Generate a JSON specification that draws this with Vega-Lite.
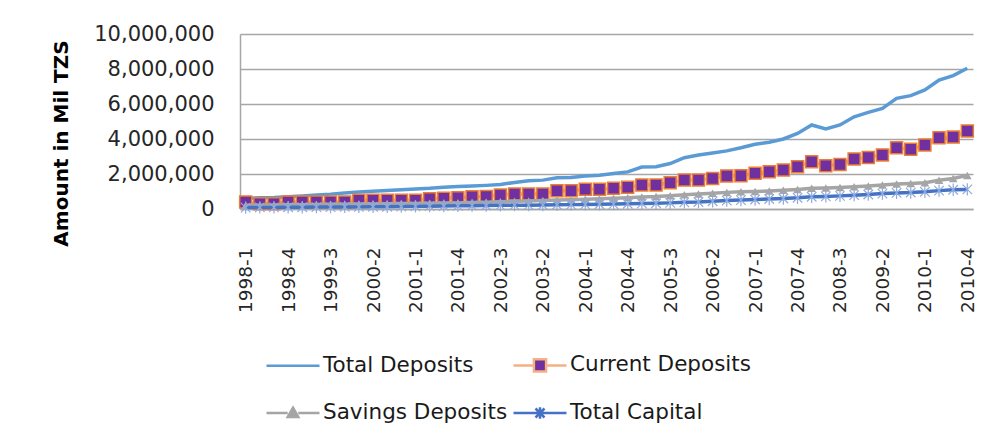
{
  "$schema": "https://vega.github.io/schema/vega-lite/v6.json",
  "width": 733,
  "height": 175,
  "autosize": {"type": "none"},
  "padding": {"left": 240, "top": 34, "right": 22, "bottom": 238},
  "background": "white",
  "config": {
    "font": "DejaVu Sans",
    "view": {"stroke": null},
    "axisY": {
      "values": [0, 2000000, 4000000, 6000000, 8000000, 10000000],
      "labelExpr": "format(datum.value, ',')",
      "labelFontSize": 21,
      "labelColor": "#262626",
      "labelPadding": 26,
      "ticks": false,
      "domain": true,
      "domainColor": "#a6a6a6",
      "domainWidth": 1.5,
      "grid": true,
      "gridColor": "#a6a6a6",
      "gridWidth": 1.5,
      "titleFontSize": 20,
      "titleFontWeight": "bold",
      "titleColor": "#000000",
      "titleX": -173,
      "titleY": 109,
      "titleBaseline": "alphabetic",
      "titleAngle": -90,
      "titleAlign": "center"
    },
    "legend": {
      "orient": "none",
      "legendX": 25,
      "legendY": 303,
      "direction": "horizontal",
      "columns": 2,
      "symbolSize": 2809,
      "symbolStrokeWidth": 2.5,
      "symbolOpacity": 1,
      "labelFontSize": 21.5,
      "labelColor": "#1a1a1a",
      "labelFont": "DejaVu Sans",
      "labelOffset": 2,
      "labelLimit": 400,
      "columnPadding": 0,
      "rowPadding": 8
    }
  },
  "data": {"values": [
    {"q": "1998-1", "Total Deposits": 620000, "Current Deposits": 400000, "Savings Deposits": 220000, "Total Capital": 80000},
    {"q": "1998-2", "Total Deposits": 640000, "Current Deposits": 300000, "Savings Deposits": 220000, "Total Capital": 90000},
    {"q": "1998-3", "Total Deposits": 660000, "Current Deposits": 300000, "Savings Deposits": 230000, "Total Capital": 90000},
    {"q": "1998-4", "Total Deposits": 700000, "Current Deposits": 400000, "Savings Deposits": 240000, "Total Capital": 100000},
    {"q": "1999-1", "Total Deposits": 750000, "Current Deposits": 400000, "Savings Deposits": 250000, "Total Capital": 100000},
    {"q": "1999-2", "Total Deposits": 800000, "Current Deposits": 400000, "Savings Deposits": 260000, "Total Capital": 110000},
    {"q": "1999-3", "Total Deposits": 850000, "Current Deposits": 400000, "Savings Deposits": 270000, "Total Capital": 110000},
    {"q": "1999-4", "Total Deposits": 920000, "Current Deposits": 400000, "Savings Deposits": 270000, "Total Capital": 120000},
    {"q": "2000-1", "Total Deposits": 970000, "Current Deposits": 500000, "Savings Deposits": 280000, "Total Capital": 120000},
    {"q": "2000-2", "Total Deposits": 1020000, "Current Deposits": 500000, "Savings Deposits": 290000, "Total Capital": 130000},
    {"q": "2000-3", "Total Deposits": 1060000, "Current Deposits": 500000, "Savings Deposits": 300000, "Total Capital": 130000},
    {"q": "2000-4", "Total Deposits": 1100000, "Current Deposits": 500000, "Savings Deposits": 310000, "Total Capital": 140000},
    {"q": "2001-1", "Total Deposits": 1140000, "Current Deposits": 500000, "Savings Deposits": 320000, "Total Capital": 150000},
    {"q": "2001-2", "Total Deposits": 1180000, "Current Deposits": 590000, "Savings Deposits": 330000, "Total Capital": 160000},
    {"q": "2001-3", "Total Deposits": 1240000, "Current Deposits": 620000, "Savings Deposits": 340000, "Total Capital": 170000},
    {"q": "2001-4", "Total Deposits": 1280000, "Current Deposits": 650000, "Savings Deposits": 350000, "Total Capital": 180000},
    {"q": "2002-1", "Total Deposits": 1310000, "Current Deposits": 700000, "Savings Deposits": 370000, "Total Capital": 190000},
    {"q": "2002-2", "Total Deposits": 1350000, "Current Deposits": 720000, "Savings Deposits": 390000, "Total Capital": 200000},
    {"q": "2002-3", "Total Deposits": 1400000, "Current Deposits": 800000, "Savings Deposits": 420000, "Total Capital": 210000},
    {"q": "2002-4", "Total Deposits": 1520000, "Current Deposits": 860000, "Savings Deposits": 440000, "Total Capital": 220000},
    {"q": "2003-1", "Total Deposits": 1620000, "Current Deposits": 860000, "Savings Deposits": 460000, "Total Capital": 220000},
    {"q": "2003-2", "Total Deposits": 1650000, "Current Deposits": 860000, "Savings Deposits": 480000, "Total Capital": 230000},
    {"q": "2003-3", "Total Deposits": 1780000, "Current Deposits": 1050000, "Savings Deposits": 510000, "Total Capital": 240000},
    {"q": "2003-4", "Total Deposits": 1800000, "Current Deposits": 1050000, "Savings Deposits": 530000, "Total Capital": 250000},
    {"q": "2004-1", "Total Deposits": 1880000, "Current Deposits": 1130000, "Savings Deposits": 560000, "Total Capital": 260000},
    {"q": "2004-2", "Total Deposits": 1930000, "Current Deposits": 1130000, "Savings Deposits": 580000, "Total Capital": 270000},
    {"q": "2004-3", "Total Deposits": 2030000, "Current Deposits": 1180000, "Savings Deposits": 610000, "Total Capital": 280000},
    {"q": "2004-4", "Total Deposits": 2120000, "Current Deposits": 1240000, "Savings Deposits": 640000, "Total Capital": 300000},
    {"q": "2005-1", "Total Deposits": 2400000, "Current Deposits": 1370000, "Savings Deposits": 680000, "Total Capital": 320000},
    {"q": "2005-2", "Total Deposits": 2420000, "Current Deposits": 1370000, "Savings Deposits": 710000, "Total Capital": 330000},
    {"q": "2005-3", "Total Deposits": 2600000, "Current Deposits": 1500000, "Savings Deposits": 760000, "Total Capital": 350000},
    {"q": "2005-4", "Total Deposits": 2930000, "Current Deposits": 1660000, "Savings Deposits": 820000, "Total Capital": 380000},
    {"q": "2006-1", "Total Deposits": 3080000, "Current Deposits": 1660000, "Savings Deposits": 860000, "Total Capital": 400000},
    {"q": "2006-2", "Total Deposits": 3200000, "Current Deposits": 1750000, "Savings Deposits": 900000, "Total Capital": 440000},
    {"q": "2006-3", "Total Deposits": 3320000, "Current Deposits": 1890000, "Savings Deposits": 950000, "Total Capital": 480000},
    {"q": "2006-4", "Total Deposits": 3500000, "Current Deposits": 1900000, "Savings Deposits": 980000, "Total Capital": 510000},
    {"q": "2007-1", "Total Deposits": 3700000, "Current Deposits": 2040000, "Savings Deposits": 1000000, "Total Capital": 540000},
    {"q": "2007-2", "Total Deposits": 3810000, "Current Deposits": 2130000, "Savings Deposits": 1030000, "Total Capital": 570000},
    {"q": "2007-3", "Total Deposits": 4000000, "Current Deposits": 2230000, "Savings Deposits": 1070000, "Total Capital": 600000},
    {"q": "2007-4", "Total Deposits": 4320000, "Current Deposits": 2420000, "Savings Deposits": 1120000, "Total Capital": 640000},
    {"q": "2008-1", "Total Deposits": 4800000, "Current Deposits": 2700000, "Savings Deposits": 1180000, "Total Capital": 700000},
    {"q": "2008-2", "Total Deposits": 4570000, "Current Deposits": 2470000, "Savings Deposits": 1200000, "Total Capital": 720000},
    {"q": "2008-3", "Total Deposits": 4800000, "Current Deposits": 2550000, "Savings Deposits": 1230000, "Total Capital": 750000},
    {"q": "2008-4", "Total Deposits": 5270000, "Current Deposits": 2860000, "Savings Deposits": 1270000, "Total Capital": 790000},
    {"q": "2009-1", "Total Deposits": 5520000, "Current Deposits": 2950000, "Savings Deposits": 1320000, "Total Capital": 830000},
    {"q": "2009-2", "Total Deposits": 5750000, "Current Deposits": 3090000, "Savings Deposits": 1370000, "Total Capital": 880000},
    {"q": "2009-3", "Total Deposits": 6320000, "Current Deposits": 3500000, "Savings Deposits": 1430000, "Total Capital": 920000},
    {"q": "2009-4", "Total Deposits": 6480000, "Current Deposits": 3410000, "Savings Deposits": 1460000, "Total Capital": 940000},
    {"q": "2010-1", "Total Deposits": 6800000, "Current Deposits": 3660000, "Savings Deposits": 1500000, "Total Capital": 980000},
    {"q": "2010-2", "Total Deposits": 7370000, "Current Deposits": 4070000, "Savings Deposits": 1640000, "Total Capital": 1050000},
    {"q": "2010-3", "Total Deposits": 7620000, "Current Deposits": 4110000, "Savings Deposits": 1740000, "Total Capital": 1100000},
    {"q": "2010-4", "Total Deposits": 8040000, "Current Deposits": 4460000, "Savings Deposits": 1920000, "Total Capital": 1120000}
  ]},
  "encoding": {
    "x": {
      "field": "q",
      "type": "ordinal",
      "scale": {"type": "point", "padding": 0.4},
      "axis": {
        "title": null,
        "values": ["1998-1","1998-4","1999-3","2000-2","2001-1","2001-4","2002-3","2003-2","2004-1","2004-4","2005-3","2006-2","2007-1","2007-4","2008-3","2009-2","2010-1","2010-4"],
        "labelAngle": -90,
        "labelFontSize": 18.5,
        "labelPadding": 38,
        "labelColor": "#262626",
        "labelOverlap": false,
        "ticks": false,
        "grid": false,
        "domain": true,
        "domainColor": "#a6a6a6",
        "domainWidth": 1.5
      }
    }
  },
  "layer": [
    {
      "mark": {"type": "line", "color": "#5B9BD5", "strokeWidth": 3.5},
      "encoding": {
        "y": {
          "field": "Total Deposits",
          "type": "quantitative",
          "title": "Amount in Mil TZS",
          "scale": {"domain": [0, 10000000], "nice": false}
        }
      }
    },
    {
      "mark": {"type": "line", "color": "#F4B183", "strokeWidth": 3.5},
      "encoding": {"y": {"field": "Current Deposits", "type": "quantitative", "title": "Amount in Mil TZS"}}
    },
    {
      "mark": {"type": "point", "shape": "square", "filled": true, "fill": "#7030A0", "stroke": "#ED7D31", "strokeWidth": 1.5, "size": 144, "opacity": 1},
      "encoding": {"y": {"field": "Current Deposits", "type": "quantitative", "title": "Amount in Mil TZS"}}
    },
    {
      "mark": {"type": "line", "color": "#A5A5A5", "strokeWidth": 3.5},
      "encoding": {"y": {"field": "Savings Deposits", "type": "quantitative", "title": "Amount in Mil TZS"}}
    },
    {
      "mark": {"type": "point", "shape": "triangle-up", "filled": true, "fill": "#A5A5A5", "size": 75, "opacity": 1},
      "encoding": {"y": {"field": "Savings Deposits", "type": "quantitative", "title": "Amount in Mil TZS"}}
    },
    {
      "mark": {"type": "line", "color": "#4472C4", "strokeWidth": 3.5},
      "encoding": {"y": {"field": "Total Capital", "type": "quantitative", "title": "Amount in Mil TZS"}}
    },
    {
      "mark": {"type": "point", "shape": "M-1,-1L1,1M-1,1L1,-1M0,-1.3V1.3", "filled": false, "stroke": "#8FAADC", "strokeWidth": 1.2, "size": 90, "opacity": 1},
      "encoding": {"y": {"field": "Total Capital", "type": "quantitative", "title": "Amount in Mil TZS"}}
    },
    {
      "transform": [{"fold": ["Total Deposits", "Current Deposits", "Savings Deposits", "Total Capital"], "as": ["key", "value"]}],
      "mark": {"type": "point", "opacity": 0},
      "encoding": {
        "y": {"field": "value", "type": "quantitative", "title": "Amount in Mil TZS"},
        "shape": {
          "field": "key",
          "type": "nominal",
          "title": null,
          "scale": {
            "domain": ["Total Deposits", "Current Deposits", "Savings Deposits", "Total Capital"],
            "range": [
              "M-1,0H1",
              "M-1,0H-0.23M0.23,0H1M-0.23,-0.23H0.23V0.23H-0.23Z",
              "M-1,0H-0.2M0.2,0H1M0,-0.2L0.2,0.15H-0.2Z",
              "M-1,0H1M-0.17,-0.17L0.17,0.17M-0.17,0.17L0.17,-0.17M0,-0.22V0.22"
            ]
          }
        },
        "stroke": {
          "field": "key",
          "type": "nominal",
          "title": null,
          "scale": {
            "domain": ["Total Deposits", "Current Deposits", "Savings Deposits", "Total Capital"],
            "range": ["#5B9BD5", "#F4B183", "#A5A5A5", "#4472C4"]
          }
        },
        "fill": {
          "field": "key",
          "type": "nominal",
          "title": null,
          "scale": {
            "domain": ["Total Deposits", "Current Deposits", "Savings Deposits", "Total Capital"],
            "range": ["transparent", "#7030A0", "#A5A5A5", "transparent"]
          }
        }
      }
    }
  ]
}
